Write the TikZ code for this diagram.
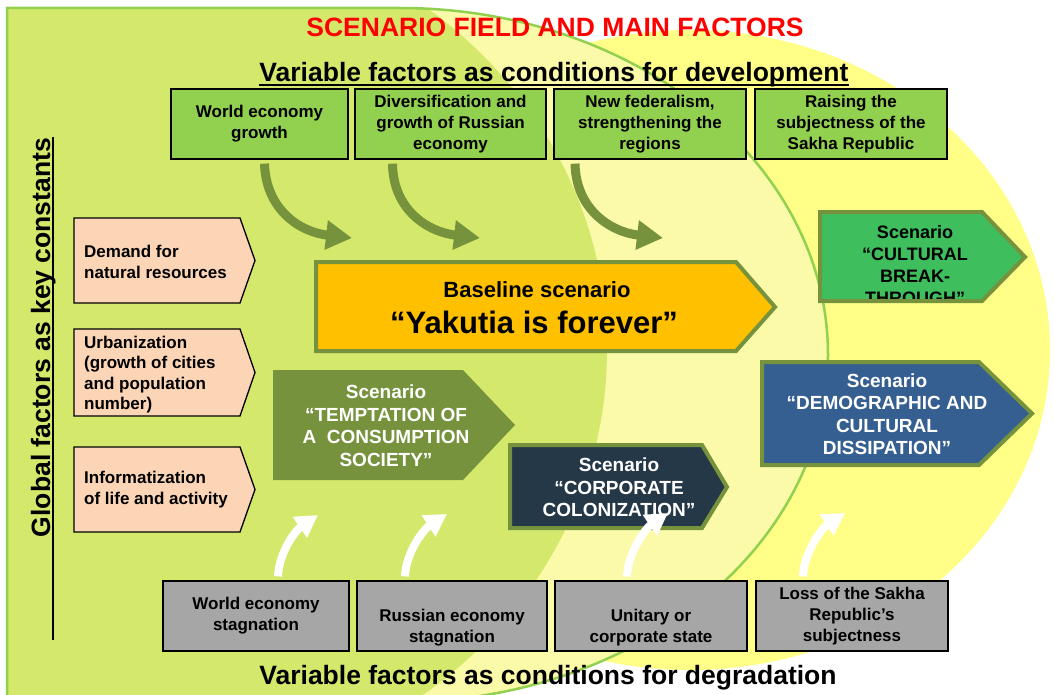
\documentclass[tikz,border=0pt]{standalone}
\usepackage{fontspec}
\setmainfont{Liberation Sans}
\usepackage{xcolor}
\usetikzlibrary{arrows.meta,calc}

\definecolor{scboxgreen}{RGB}{146,208,80}
\definecolor{scolive}{RGB}{118,146,60}
\definecolor{scorange}{RGB}{255,192,0}
\definecolor{scpink}{RGB}{251,213,181}
\definecolor{scgray}{RGB}{166,166,166}
\definecolor{scblue}{RGB}{54,95,145}
\definecolor{scnavy}{RGB}{37,56,72}
\definecolor{sclime}{RGB}{62,190,92}
\definecolor{fieldgreen}{RGB}{212,232,108}
\definecolor{fieldpale}{RGB}{250,250,168}
\definecolor{fieldyellow}{RGB}{255,255,135}
\definecolor{fieldline}{RGB}{146,208,80}

\begin{document}
\begin{tikzpicture}[x=1pt,y=-1pt,line join=miter,
    factor/.style={draw=black,line width=1.3pt,minimum height=70pt,inner sep=1pt,align=center,font=\fontsize{17}{21}\selectfont\bfseries},
    upfactor/.style={factor,fill=scboxgreen},
    downfactor/.style={factor,fill=scgray},
    constant/.style={draw=black,line width=1.3pt,fill=scpink},
    constext/.style={anchor=west,align=left,inner sep=0pt,font=\fontsize{17}{20.5}\selectfont\bfseries},
    scenframe/.style={draw=scolive,line width=4pt},
    scentext/.style={align=center,inner sep=0pt,font=\fontsize{19}{22.5}\selectfont\bfseries},
    heading/.style={inner sep=0pt,anchor=base,font=\fontsize{26.5}{30}\selectfont\bfseries},
    pushdev/.style={draw=scolive,line width=9pt,-{Triangle[length=26pt,width=28pt]}},
    pushdeg/.style={draw=white,line width=8pt,-{Triangle[length=22pt,width=24pt]}}]
\useasboundingbox (0,0) rectangle (1054,695);
\fill[white] (0,0) rectangle (1054,695);
\fill[fieldyellow] (690,350) ellipse [x radius=360, y radius=320];
\fill[fieldpale] (7,703) -- (7,8) -- (400,8) arc [start angle=-90, end angle=90, x radius=428, y radius=347] -- cycle;
\begin{scope}
    \clip (7,703) -- (7,8) -- (400,8) arc [start angle=-90, end angle=90, x radius=428, y radius=347] -- cycle;
    \fill[fieldgreen] (150,350) ellipse [x radius=457, y radius=430];
\end{scope}
\draw[fieldline,line width=2.5pt] (7,703) -- (7,8) -- (400,8) arc [start angle=-90, end angle=90, x radius=428, y radius=347];

\node[heading,text=red,font=\fontsize{26.5}{30}\selectfont\bfseries] (title) at (555,37) {SCENARIO FIELD AND MAIN FACTORS};
\node[heading] (devtitle) at (554,82) {Variable factors as conditions for development};
\draw[line width=2pt] ($(devtitle.base west)+(0,3)$) -- ($(devtitle.base east)+(0,3)$);
\node[heading] (degtitle) at (548,684) {Variable factors as conditions for degradation};
\node[heading,rotate=90] (globtitle) at (50,337.5) {Global factors as key constants};
\draw[line width=2.5pt] (53,137) -- (53,640);

\node[upfactor,minimum width=177pt] (top1) at (259.5,124) {World economy\\growth};
\node[upfactor,minimum width=191pt] (top2) at (450.5,124) {Diversification and\\growth of Russian\\economy};
\node[upfactor,minimum width=192pt] (top3) at (650,124) {New federalism,\\strengthening the\\regions};
\node[upfactor,minimum width=192pt] (top4) at (851,124) {Raising the\\subjectness of the\\Sakha Republic};

\node[downfactor,minimum width=186pt] (bot1) at (256,616) {World economy\\stagnation};
\node[downfactor,minimum width=190pt] (bot2) at (452,616) {\strut\\Russian economy\\stagnation};
\node[downfactor,minimum width=192pt] (bot3) at (651,616) {\strut\\Unitary or\\corporate state};
\node[downfactor,minimum width=192pt] (bot4) at (852,616) {Loss of the Sakha\\Republic’s\\subjectness};

\draw[constant] (74,218) -- (240,218) -- (255,260.5) -- (240,303) -- (74,303) -- cycle;
\node[constext] (demand) at (84,262) {Demand for\\natural resources};
\draw[constant] (74,329) -- (240,329) -- (255,372.5) -- (240,416) -- (74,416) -- cycle;
\node[constext] (urban) at (84,374.5) {Urbanization\\(growth of cities\\and population\\number)};
\draw[constant] (74,447) -- (240,447) -- (255,489.5) -- (240,532) -- (74,532) -- cycle;
\node[constext] (inform) at (84,489.5) {Informatization\\of life and activity};

\coordinate (gt1) at (352,238);
\coordinate (gt2) at (480,238);
\coordinate (gt3) at (663,238);
\draw[pushdev] ($(top1.south)+(5,4)$) .. controls (266,210) and (300,232) .. (gt1);
\draw[pushdev] ($(top2.south)+(-58,4)$) .. controls (393,210) and (428,232) .. (gt2);
\draw[pushdev] ($(top3.south)+(-75,4)$) .. controls (576,210) and (611,232) .. (gt3);

\draw[scenframe,fill=scorange] (316,262) -- (736,262) -- (775,307) -- (736,351) -- (316,351) -- cycle;
\node[inner sep=0pt,font=\fontsize{22}{26}\selectfont\bfseries] (basehead) at (537,290) {Baseline scenario};
\node[inner sep=0pt,font=\fontsize{31}{34}\selectfont\bfseries] (basename) at (534,322) {“Yakutia is forever”};

\fill[scolive] (273,370) -- (463,370) -- (515,425) -- (463,480) -- (273,480) -- cycle;
\node[scentext,text=white] (tempt) at (386,425.5) {Scenario\\“TEMPTATION OF\\A\ \ CONSUMPTION\\SOCIETY”};

\draw[scenframe,fill=scnavy] (510,445) -- (702,445) -- (727,487) -- (702,528) -- (510,528) -- cycle;
\node[scentext,text=white] (corp) at (619,487.5) {Scenario\\“CORPORATE\\COLONIZATION”};

\fill[sclime] (820,212) -- (982,212) -- (1025,257) -- (982,301) -- (820,301) -- cycle;
\begin{scope}
    \clip (820,212) -- (982,212) -- (1025,257) -- (982,301) -- (820,301) -- cycle;
    \node[scentext,font=\fontsize{18}{22}\selectfont\bfseries] (cultural) at (915,265) {Scenario\\“CULTURAL\\BREAK-\\THROUGH”};
\end{scope}
\draw[scenframe] (820,212) -- (982,212) -- (1025,257) -- (982,301) -- (820,301) -- cycle;

\draw[scenframe,fill=scblue] (762,362) -- (979,362) -- (1032,413.5) -- (979,465) -- (762,465) -- cycle;
\node[scentext,text=white] (demog) at (887,414) {Scenario\\“DEMOGRAPHIC AND\\CULTURAL\\DISSIPATION”};

\coordinate (wt1) at (318,515);
\coordinate (wt2) at (447,514);
\coordinate (wt3) at (668,513);
\coordinate (wt4) at (845,513);
\draw[pushdeg] ($(bot1.north)+(22,-4)$) .. controls (279,552) and (296,530) .. (wt1);
\draw[pushdeg] ($(bot2.north)+(-47,-4)$) .. controls (406,552) and (424,529) .. (wt2);
\draw[pushdeg] ($(bot3.north)+(-24,-4)$) .. controls (628,552) and (646,528) .. (wt3);
\draw[pushdeg] ($(bot4.north)+(-49,-4)$) .. controls (804,552) and (822,528) .. (wt4);
\end{tikzpicture}
\end{document}
